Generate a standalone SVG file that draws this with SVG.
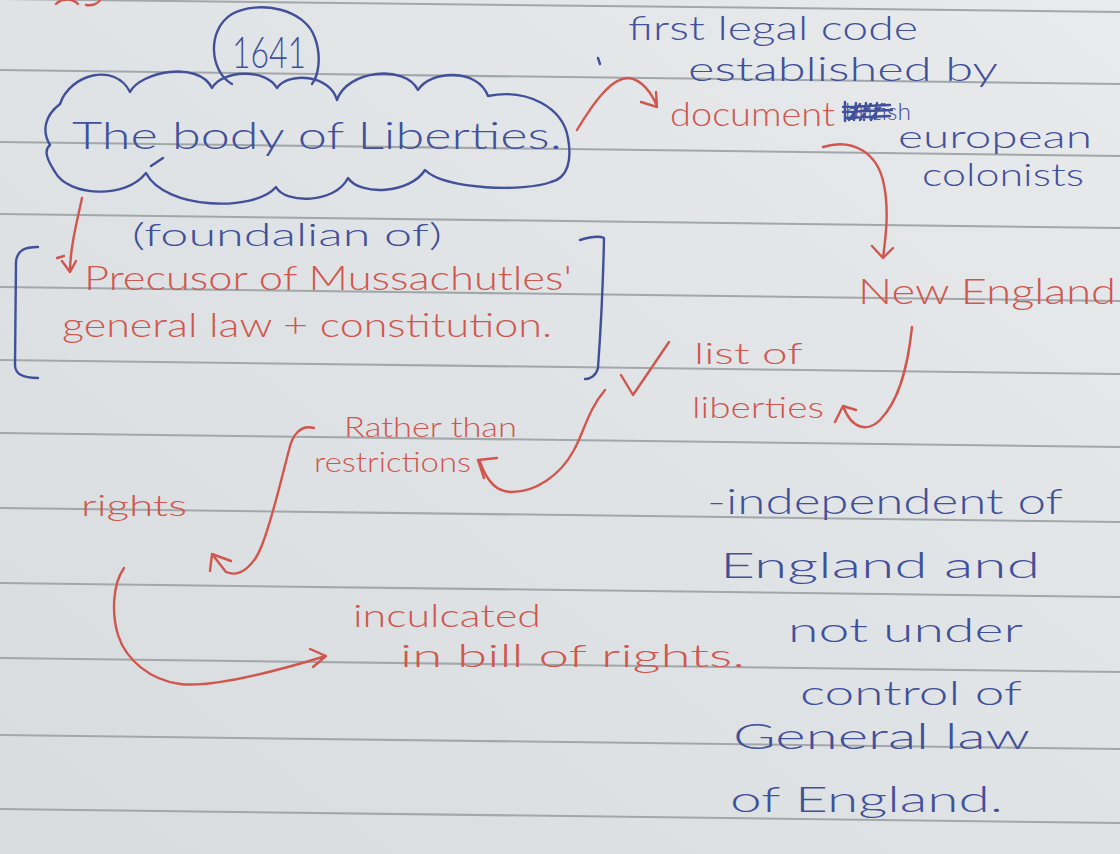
<svg xmlns="http://www.w3.org/2000/svg" width="1120" height="854" viewBox="0 0 1120 854">
  <defs>
    <linearGradient id="paper" x1="1" y1="0" x2="0" y2="1">
      <stop offset="0" stop-color="#e8eaec"/>
      <stop offset="0.5" stop-color="#e0e3e5"/>
      <stop offset="1" stop-color="#d8dcde"/>
    </linearGradient>
    <style>
      .rule { stroke: #a2a7aa; stroke-width: 2; fill: none; }
      .blue { fill: #41509a; font-family: Lato, "Liberation Sans", sans-serif; font-weight: 300; }
      .red { fill: #d0564e; font-family: Lato, "Liberation Sans", sans-serif; font-weight: 300; }
      .ink-blue { stroke: #41509a; stroke-width: 2.4; fill: none; stroke-linecap: round; stroke-linejoin: round; }
      .ink-red { stroke: #d0564e; stroke-width: 2.4; fill: none; stroke-linecap: round; stroke-linejoin: round; }
    </style>
  </defs>

  <!-- notebook page -->
  <rect width="1120" height="854" fill="url(#paper)"/>
  <g id="rules">
    <line class="rule" x1="0" y1="-1" x2="1120" y2="12"/>
    <line class="rule" x1="0" y1="70" x2="1120" y2="84"/>
    <line class="rule" x1="0" y1="142" x2="1120" y2="156"/>
    <line class="rule" x1="0" y1="214" x2="1120" y2="228"/>
    <line class="rule" x1="0" y1="287" x2="1120" y2="301"/>
    <line class="rule" x1="0" y1="360" x2="1120" y2="374"/>
    <line class="rule" x1="0" y1="433" x2="1120" y2="447"/>
    <line class="rule" x1="0" y1="508" x2="1120" y2="522"/>
    <line class="rule" x1="0" y1="583" x2="1120" y2="597"/>
    <line class="rule" x1="0" y1="658" x2="1120" y2="672"/>
    <line class="rule" x1="0" y1="735" x2="1120" y2="749"/>
    <line class="rule" x1="0" y1="809" x2="1120" y2="823"/>
  </g>

  <!-- leftover strokes from the previous page line -->
  <path class="ink-red" d="M 56,4 C 62,-2 72,-2 78,4 M 86,5 C 92,6 98,4 100,0"/>
  <path class="ink-blue" d="M 598,58 L 600,64"/>

  <!-- year bubble -->
  <g id="node-1641">
    <path class="ink-blue" d="M 232,84 C 210,72 206,30 232,14 C 258,0 305,8 315,38 C 322,58 318,76 312,84"/>
    <text class="blue" x="232" y="68" font-size="44" textLength="74" lengthAdjust="spacingAndGlyphs">1641</text>
  </g>

  <!-- title cloud -->
  <g id="node-body-of-liberties">
    <path class="ink-blue" d="M 60,104 C 70,74 115,62 130,92 C 140,72 198,60 212,88 C 222,70 266,68 277,88 C 288,72 330,74 337,100 C 347,70 405,64 418,90 C 430,70 478,68 488,96 C 528,88 563,108 568,138 C 572,160 568,178 551,182 C 525,192 445,190 425,170 C 410,194 360,196 348,178 C 335,204 285,204 276,187 C 255,212 165,210 146,173 C 125,200 68,196 55,172 C 46,158 44,150 50,145 C 42,132 44,116 60,104 Z"/>
    <path class="ink-blue" d="M 151,166 L 163,158"/>
    <text class="blue" x="72" y="149" font-size="38" textLength="490" lengthAdjust="spacingAndGlyphs">The body of Liberties.</text>
  </g>

  <!-- bracketed note -->
  <g id="node-foundation">
    <text class="blue" x="132" y="246" font-size="32" textLength="310" lengthAdjust="spacingAndGlyphs">(foundalian of)</text>
  </g>
  <g id="node-precursor">
    <path class="ink-blue" d="M 38,247 C 25,247 17,250 16,262 L 15,365 C 15,374 22,378 38,378"/>
    <path class="ink-blue" d="M 580,240 C 590,237 600,236 604,238 C 603,290 600,340 598,368 C 596,376 590,379 585,379"/>
    <text class="red" x="84" y="290" font-size="34" textLength="488" lengthAdjust="spacingAndGlyphs">Precusor of Mussachutles'</text>
    <text class="red" x="62" y="337" font-size="34" textLength="490" lengthAdjust="spacingAndGlyphs">general law + constitution.</text>
  </g>

  <!-- top right notes -->
  <g id="node-first-legal-code">
    <text class="blue" x="628" y="40" font-size="34" textLength="290" lengthAdjust="spacingAndGlyphs">first legal code</text>
    <text class="blue" x="688" y="81" font-size="34" textLength="310" lengthAdjust="spacingAndGlyphs">established by</text>
  </g>
  <g id="node-document">
    <text class="red" x="670" y="126" font-size="34" textLength="165" lengthAdjust="spacingAndGlyphs">document</text>
  </g>
  <g id="node-european-colonists">
    <text class="blue" x="845" y="120" font-size="24" textLength="66" lengthAdjust="spacingAndGlyphs">british</text>
    <path class="ink-blue" stroke-width="1.8" d="M 845,102 L 845,121 M 843,107 L 890,105 M 843,112 L 892,110 M 845,118 L 890,116 M 856,103 L 854,120 M 866,103 L 864,120 M 877,103 L 875,119 M 849,120 L 860,104 M 860,120 L 871,104 M 871,120 L 882,104"/>
    <text class="blue" x="898" y="148" font-size="32" textLength="194" lengthAdjust="spacingAndGlyphs">european</text>
    <text class="blue" x="922" y="186" font-size="32" textLength="162" lengthAdjust="spacingAndGlyphs">colonists</text>
  </g>
  <g id="node-new-england">
    <text class="red" x="858" y="304" font-size="36" textLength="258" lengthAdjust="spacingAndGlyphs">New England</text>
  </g>
  <g id="node-list-of-liberties">
    <path class="ink-red" d="M 621,375 L 633,395 L 669,342"/>
    <text class="red" x="694" y="364" font-size="30" textLength="109" lengthAdjust="spacingAndGlyphs">list of</text>
    <text class="red" x="692" y="418" font-size="30" textLength="132" lengthAdjust="spacingAndGlyphs">liberties</text>
  </g>

  <!-- middle and left notes -->
  <g id="node-rather-than">
    <text class="red" x="344" y="437" font-size="28" textLength="173" lengthAdjust="spacingAndGlyphs">Rather than</text>
    <text class="red" x="314" y="472" font-size="28" textLength="157" lengthAdjust="spacingAndGlyphs">restrictions</text>
  </g>
  <g id="node-rights">
    <text class="red" x="81" y="516" font-size="30" textLength="106" lengthAdjust="spacingAndGlyphs">rights</text>
  </g>
  <g id="node-inculcated">
    <text class="red" x="353" y="627" font-size="32" textLength="188" lengthAdjust="spacingAndGlyphs">inculcated</text>
    <text class="red" x="400" y="667" font-size="32" textLength="345" lengthAdjust="spacingAndGlyphs">in bill of rights.</text>
  </g>

  <!-- bottom right notes -->
  <g id="node-independent">
    <text class="blue" x="707" y="514" font-size="36" textLength="356" lengthAdjust="spacingAndGlyphs">-independent of</text>
    <text class="blue" x="720" y="578" font-size="36" textLength="320" lengthAdjust="spacingAndGlyphs">England and</text>
    <text class="blue" x="788" y="642" font-size="34" textLength="235" lengthAdjust="spacingAndGlyphs">not under</text>
    <text class="blue" x="800" y="705" font-size="34" textLength="222" lengthAdjust="spacingAndGlyphs">control of</text>
    <text class="blue" x="733" y="749" font-size="36" textLength="297" lengthAdjust="spacingAndGlyphs">General law</text>
    <text class="blue" x="730" y="812" font-size="36" textLength="273" lengthAdjust="spacingAndGlyphs">of England.</text>
  </g>

  <!-- hand-drawn arrows -->
  <g id="connectors">
    <!-- cloud to precursor -->
    <path class="ink-red" d="M 82,198 C 76,225 70,250 70,272 M 62,261 L 70,272 L 76,261 M 57,258 L 64,256"/>
    <!-- cloud to document -->
    <path class="ink-red" d="M 577,130 C 595,100 612,78 628,78 C 642,79 652,94 657,106 M 641,102 L 657,107 L 656,92"/>
    <!-- document to New England -->
    <path class="ink-red" d="M 823,147 C 852,138 878,152 884,185 C 889,210 886,235 883,258 M 872,246 L 883,258 L 893,248"/>
    <!-- New England to list of liberties -->
    <path class="ink-red" d="M 912,327 C 908,365 900,400 880,420 C 868,432 852,430 843,406 M 835,422 L 843,406 L 856,410"/>
    <!-- list of liberties to restrictions -->
    <path class="ink-red" d="M 605,390 C 588,410 584,432 574,450 C 560,476 535,492 512,492 C 498,492 488,484 480,462 M 478,460 L 497,458 M 478,460 L 484,478"/>
    <!-- restrictions to rights -->
    <path class="ink-red" d="M 314,428 C 300,424 292,436 289,450 C 281,480 272,520 262,545 C 254,566 240,578 226,572 L 212,554 M 212,554 L 231,561 M 212,554 L 210,571"/>
    <!-- rights to bill of rights -->
    <path class="ink-red" d="M 124,568 C 112,585 112,615 118,635 C 126,660 150,680 180,684 C 215,688 280,670 326,656 M 310,649 L 326,656 L 313,667"/>
  </g>
</svg>
